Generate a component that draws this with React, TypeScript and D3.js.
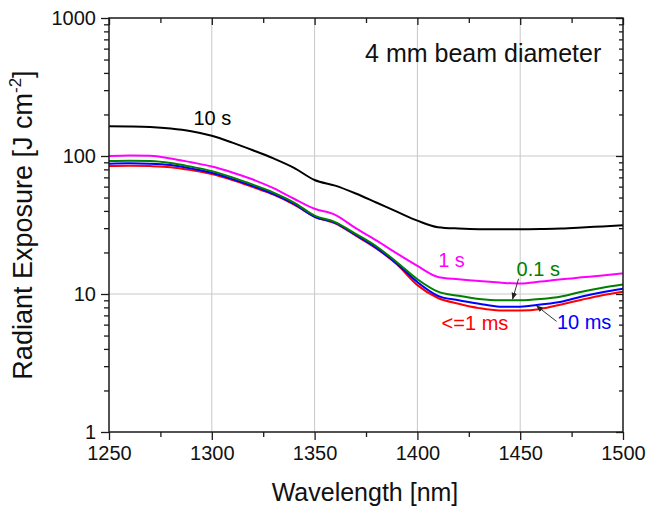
import React, { useEffect, useRef } from 'react';
import * as d3 from 'd3';

// wavelength grid [nm]
const wavelengths = [1250, 1260, 1270, 1280, 1290, 1300, 1310, 1320, 1330, 1340, 1350, 1360, 1370,
  1380, 1390, 1400, 1410, 1420, 1430, 1440, 1450, 1460, 1470, 1480, 1490, 1500];

// radiant exposure [J cm^-2] per exposure duration
const exp10s = [164, 163.5, 162, 158, 151, 140, 125, 110, 96, 82, 67, 61, 53.5, 46, 39.5, 34,
  30.5, 29.8, 29.5, 29.5, 29.5, 29.6, 29.8, 30.3, 30.9, 31.5];
const exp1s = [100, 101, 100.5, 96, 90, 84, 76, 67.5, 58.5, 49, 41.5, 37.5, 30, 24.5, 19.7, 16, 13.3,
  12.8, 12.4, 12.1, 11.9, 12.3, 12.8, 13.2, 13.6, 14.1];
const exp100ms = [92, 92.5, 92, 89, 83.6, 77.7, 70, 62, 54.3, 46, 37, 33.2, 27.3, 22.2, 17, 12.8, 10.4,
  9.7, 9.2, 9.0, 9.0, 9.2, 9.6, 10.4, 11.1, 11.7];
const exp10ms = [88, 88.5, 88, 86, 81, 75.5, 68, 60.5, 53, 45, 36.3, 32.8, 26.8, 21.6, 16.6, 12.2, 9.7,
  9.0, 8.5, 8.1, 8.1, 8.4, 8.8, 9.6, 10.3, 10.9];
const exp1ms = [84.5, 85, 84.5, 83, 79, 74, 67, 59.5, 52.5, 44.5, 36.3, 32.5, 26.5, 21.4, 16.4, 11.6,
  9.35, 8.5, 7.9, 7.6, 7.6, 7.8, 8.4, 9.1, 9.8, 10.4];

const xTicks = [1250, 1300, 1350, 1400, 1450, 1500];
const yTicks = [1, 10, 100, 1000];

const W = 646;
const H = 510;
const margin = { top: 18, right: 23, bottom: 78, left: 109 };

const App = () => {
  const ref = useRef<SVGSVGElement>(null);

  useEffect(() => {
    const svg = d3.select(ref.current);
    svg.selectAll('*').remove();

    const x = d3.scaleLinear().domain([1250, 1500]).range([margin.left, W - margin.right]);
    const y = d3.scaleLog().domain([1, 1000]).range([H - margin.bottom, margin.top]);

    const font = "'Liberation Sans', Arial, sans-serif";

    // minor ticks
    const xMinor = d3.range(1275, 1500, 50);
    const yMinor: number[] = [];
    [1, 10, 100].forEach(d => { for (let k = 2; k <= 9; k++) yMinor.push(d * k); });

    // grid
    const grid = svg.append('g').attr('stroke', '#c8c8c8').attr('stroke-width', 1);
    grid.selectAll('line.vx').data(xTicks.slice(1, -1)).enter().append('line')
      .attr('x1', d => x(d)).attr('x2', d => x(d))
      .attr('y1', y(1)).attr('y2', y(1000));
    grid.selectAll('line.hy').data([10, 100]).enter().append('line')
      .attr('x1', x(1250)).attr('x2', x(1500))
      .attr('y1', d => y(d)).attr('y2', d => y(d));

    // series lines
    const series = [
      { name: '<=1 ms', values: exp1ms, color: '#ff0000' },
      { name: '10 ms', values: exp10ms, color: '#0000ff' },
      { name: '0.1 s', values: exp100ms, color: '#007f00' },
      { name: '1 s', values: exp1s, color: '#ff00ff' },
      { name: '10 s', values: exp10s, color: '#000000' },
    ];
    const line = d3.line<number>()
      .x((d, i) => x(wavelengths[i]))
      .y(d => y(d))
      .curve(d3.curveMonotoneX);
    svg.append('g').selectAll('path').data(series).enter().append('path')
      .attr('d', d => line(d.values))
      .attr('fill', 'none')
      .attr('stroke', d => d.color)
      .attr('stroke-width', 2);

    // axes
    const axisColor = '#1a1a1a';
    const styleAxis = (g: any) => {
      g.select('.domain').remove();
      g.selectAll('line').attr('stroke', axisColor).attr('stroke-width', 1.3);
      g.selectAll('text').attr('font-family', font).attr('font-size', 20).attr('fill', '#111');
    };

    svg.append('g').attr('transform', `translate(0,${y(1)})`)
      .call(d3.axisBottom(x).tickValues(xTicks).tickFormat(d3.format('d')).tickSize(8).tickPadding(6))
      .call(styleAxis);
    svg.append('g').attr('transform', `translate(0,${y(1)})`)
      .call(d3.axisBottom(x).tickValues(xMinor).tickFormat(() => '').tickSize(5))
      .call(styleAxis);
    svg.append('g').attr('transform', `translate(0,${y(1000)})`)
      .call(d3.axisTop(x).tickValues(xTicks).tickFormat(() => '').tickSize(-7))
      .call(styleAxis);
    svg.append('g').attr('transform', `translate(0,${y(1000)})`)
      .call(d3.axisTop(x).tickValues(xMinor).tickFormat(() => '').tickSize(-5))
      .call(styleAxis);

    svg.append('g').attr('transform', `translate(${x(1250)},0)`)
      .call(d3.axisLeft(y).tickValues(yTicks).tickFormat(d3.format('d')).tickSize(8).tickPadding(5))
      .call(styleAxis);
    svg.append('g').attr('transform', `translate(${x(1250)},0)`)
      .call(d3.axisLeft(y).tickValues(yMinor).tickFormat(() => '').tickSize(5))
      .call(styleAxis);
    svg.append('g').attr('transform', `translate(${x(1500)},0)`)
      .call(d3.axisRight(y).tickValues(yTicks).tickFormat(() => '').tickSize(-7))
      .call(styleAxis);
    svg.append('g').attr('transform', `translate(${x(1500)},0)`)
      .call(d3.axisRight(y).tickValues(yMinor).tickFormat(() => '').tickSize(-4))
      .call(styleAxis);

    // frame
    svg.append('rect')
      .attr('x', x(1250)).attr('y', y(1000))
      .attr('width', x(1500) - x(1250)).attr('height', y(1) - y(1000))
      .attr('fill', 'none').attr('stroke', axisColor).attr('stroke-width', 1.5);

    // axis titles
    svg.append('text')
      .attr('x', (x(1250) + x(1500)) / 2 - 1).attr('y', 501)
      .attr('text-anchor', 'middle')
      .attr('font-family', font).attr('font-size', 25).attr('fill', '#111')
      .text('Wavelength [nm]');

    const yt = svg.append('text')
      .attr('transform', `translate(32,${(y(1) + y(1000)) / 2}) rotate(-90)`)
      .attr('text-anchor', 'middle')
      .attr('font-family', font).attr('font-size', 27).attr('fill', '#111');
    yt.append('tspan').text('Radiant Exposure [J cm');
    yt.append('tspan').attr('font-size', 17).attr('dy', -11).text('-2');
    yt.append('tspan').attr('dy', 11).text(']');

    // annotations
    const labels = [
      { text: '4 mm beam diameter', wl: 1432, v: 478, color: '#111', size: 25 },
      { text: '10 s', wl: 1300.3, v: 167, color: '#000', size: 20 },
      { text: '1 s', wl: 1416.6, v: 15.8, color: '#ff00ff', size: 20 },
      { text: '0.1 s', wl: 1458.8, v: 13.6, color: '#007f00', size: 20 },
      { text: '<=1 ms', wl: 1428, v: 5.5, color: '#ff0000', size: 20 },
      { text: '10 ms', wl: 1481.1, v: 5.57, color: '#0000ff', size: 20 },
    ];
    svg.append('g').selectAll('text').data(labels).enter().append('text')
      .attr('x', d => x(d.wl)).attr('y', d => y(d.v))
      .attr('text-anchor', 'middle')
      .attr('font-family', font).attr('font-size', d => d.size)
      .attr('fill', d => d.color)
      .text(d => d.text);

    // arrows
    svg.append('defs').append('marker')
      .attr('id', 'arrowhead').attr('viewBox', '0 0 10 10')
      .attr('refX', 9).attr('refY', 5)
      .attr('markerWidth', 7).attr('markerHeight', 7)
      .attr('orient', 'auto-start-reverse')
      .append('path').attr('d', 'M0,1 L10,5 L0,9 z').attr('fill', '#222');

    const arrows = [
      { wl1: 1449.2, v1: 12.9, wl2: 1446.3, v2: 9.2 },
      { wl1: 1467.7, v1: 6.33, wl2: 1458, v2: 8.2 },
    ];
    svg.append('g').selectAll('line').data(arrows).enter().append('line')
      .attr('x1', d => x(d.wl1)).attr('y1', d => y(d.v1))
      .attr('x2', d => x(d.wl2)).attr('y2', d => y(d.v2))
      .attr('stroke', '#333').attr('stroke-width', 1)
      .attr('marker-end', 'url(#arrowhead)');
  }, []);

  return (
    <svg ref={ref} width={W} height={H}
      style={{ position: 'absolute', left: 0, top: 0, background: '#fff' }} />
  );
};

export default App;
